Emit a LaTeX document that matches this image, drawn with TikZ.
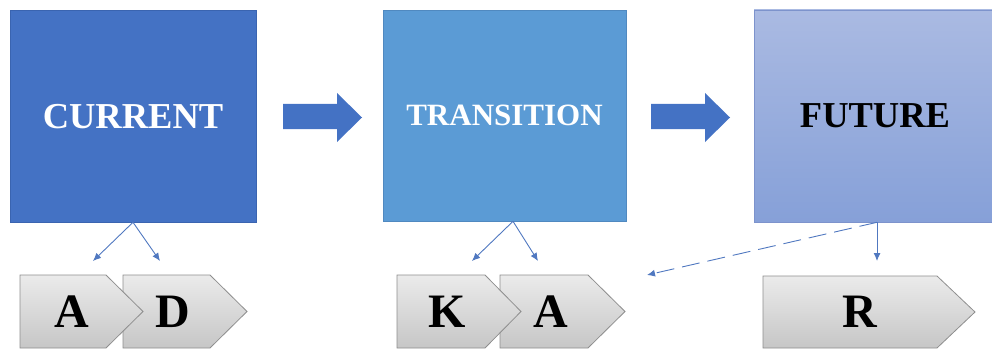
\documentclass[tikz,border=0pt]{standalone}
\usepackage{fontspec}
\setmainfont{Liberation Serif}
\usetikzlibrary{arrows.meta,calc}
\definecolor{curblue}{HTML}{4472C4}
\definecolor{curedge}{HTML}{3A64B0}
\definecolor{trblue}{HTML}{5B9BD5}
\definecolor{tredge}{HTML}{5089C0}
\definecolor{futtop}{HTML}{AABAE2}
\definecolor{futbot}{HTML}{86A0D8}
\definecolor{futedge}{HTML}{7D93CC}
\definecolor{chevtop}{HTML}{EBEBEB}
\definecolor{chevbot}{HTML}{C6C6C6}
\definecolor{chevline}{HTML}{8E8E8E}
\definecolor{linkblue}{HTML}{5078C0}
\begin{document}
\begin{tikzpicture}[x=1pt,y=-1pt,
  stage/.style={line width=0.6pt, inner sep=0pt, text depth=0pt,
    font=\fontsize{36.5}{40}\selectfont\bfseries},
  chev/.style={draw=chevline, line width=0.8pt, top color=chevtop, bottom color=chevbot},
  letter/.style={inner sep=0pt, text depth=0pt, font=\fontsize{48}{50}\selectfont\bfseries},
  link/.style={draw=linkblue, line width=0.9pt, -{Latex[length=8pt,width=7pt]}},
  flow/.style={fill=curblue, draw=none}]
\useasboundingbox (0,0) rectangle (992,350);

% the three stages
\node[stage, fill=curblue, draw=curedge, text=white,
      minimum width=246pt, minimum height=212pt] (cur) at (133,116) {CURRENT};
\node[stage, fill=trblue, draw=tredge, text=white,
      minimum width=243pt, minimum height=211pt,
      font=\fontsize{31}{34}\selectfont\bfseries] (tra) at (504.5,115.5) {TRANSITION};
\node[stage, top color=futtop, bottom color=futbot, draw=futedge, text=black,
      minimum width=242pt, minimum height=212pt] (fut) at (875,116) {FUTURE};

% block arrows between the stages
\fill[flow] (283,104) -- (337,104) -- (337,93) -- (362,117.5) -- (337,142)
            -- (337,129) -- (283,129) -- cycle;
\fill[flow] (651,104) -- (705,104) -- (705,93) -- (730,117.5) -- (705,142)
            -- (705,129) -- (651,129) -- cycle;

% chevrons (right one first so the left point lies on top)
\path[chev] (123,275) -- (210,275) -- (247,311.5) -- (210,348) -- (123,348) -- cycle;
\path[chev] (20,275) -- (106,275) -- (143,311.5) -- (106,348) -- (20,348) -- cycle;
\path[chev] (500,275) -- (588,275) -- (625,311.5) -- (588,348) -- (500,348) -- cycle;
\path[chev] (397,275) -- (485,275) -- (521,311.5) -- (485,348) -- (397,348) -- cycle;
\path[chev] (763,276) -- (937,276) -- (975,312) -- (937,348) -- (763,348) -- cycle;

\node[letter] (la) at (72,312) {A};
\node[letter] (ld) at (173,312) {D};
\node[letter] (lk) at (447,312) {K};
\node[letter] (lb) at (551,312) {A};
\node[letter] (lr) at (860,312) {R};

% links from the stages
\coordinate (c1) at (93,261);
\coordinate (c2) at (160,261);
\coordinate (t1) at (472,261);
\coordinate (t2) at (538,261);
\coordinate (f1) at (877,261);
\coordinate (f2) at (647,275);
\coordinate (ts) at ([xshift=8.5pt]tra.south);
\coordinate (fs) at ([xshift=2pt]fut.south);

\draw[link] (cur.south) -- (c1);
\draw[link] (cur.south) -- (c2);
\draw[link] (ts) -- (t1);
\draw[link] (ts) -- (t2);
\draw[link] (fs) -- (f1);
\draw[link, dash pattern=on 18pt off 8pt] (fs) -- (f2);
\end{tikzpicture}
\end{document}
